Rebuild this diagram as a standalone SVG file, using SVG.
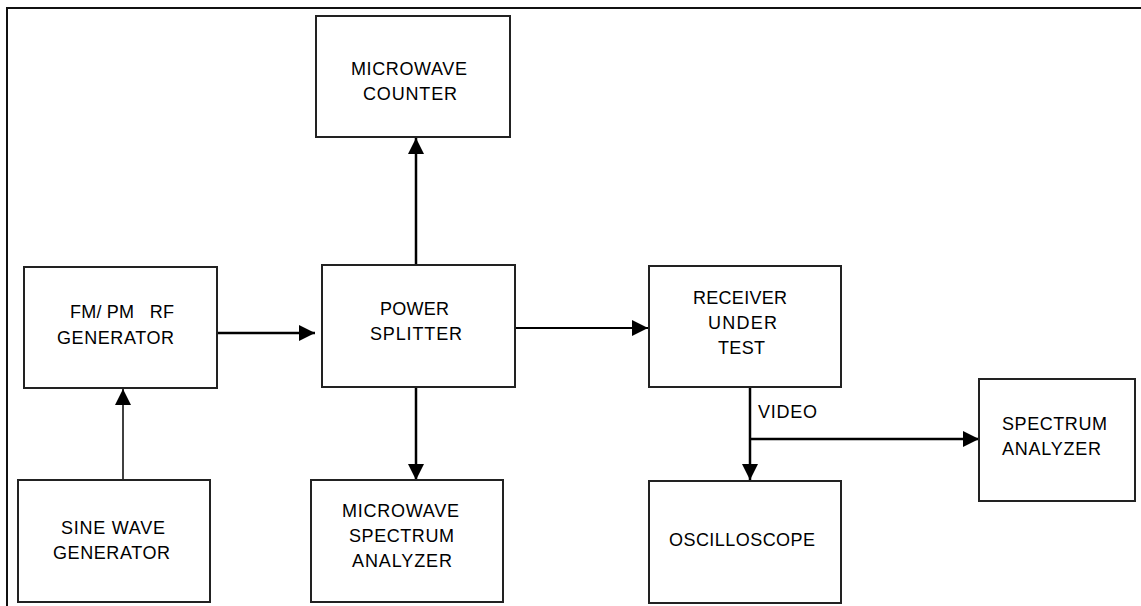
<svg xmlns="http://www.w3.org/2000/svg" width="1141" height="606" viewBox="0 0 1141 606">
<style>
.box{fill:#fff;stroke:#222;stroke-width:2}
.t{font-family:"Liberation Sans",Arial,sans-serif;font-size:18px;fill:#000;text-anchor:middle}
.c{stroke:#000;fill:none}
</style>
<defs>
<marker id="ah" markerUnits="userSpaceOnUse" markerWidth="16" markerHeight="16" refX="16" refY="8" orient="auto">
<path d="M0,0 L16,8 L0,16 Z" fill="#000"/>
</marker>
</defs>
<rect width="1141" height="606" fill="#fff"/>
<g id="frame">
<path d="M7,606 L7,8 L1141,8" fill="none" stroke="#111" stroke-width="2"/>
</g>
<g id="connectors">
<path class="c" d="M123,480 L123,389" stroke-width="1.5" marker-end="url(#ah)"/>
<path class="c" d="M217,333 L315,333" stroke-width="2.5" marker-end="url(#ah)"/>
<path class="c" d="M416,265 L416,138" stroke-width="2.5" marker-end="url(#ah)"/>
<path class="c" d="M416,387 L416,480" stroke-width="2.5" marker-end="url(#ah)"/>
<path class="c" d="M515,328 L648,328" stroke-width="1.8" marker-end="url(#ah)"/>
<path class="c" d="M750,387 L750,480" stroke-width="2.5" marker-end="url(#ah)"/>
<path class="c" d="M750,439 L979,439" stroke-width="2.5" marker-end="url(#ah)"/>
<text x="758" y="418" class="t" style="text-anchor:start" textLength="59">VIDEO</text>
</g>
<g id="counter">
<rect class="box" x="316" y="16" width="194" height="121"/>
<text class="t" x="409" y="75" textLength="116">MICROWAVE</text>
<text class="t" x="410" y="100" textLength="94">COUNTER</text>
</g>
<g id="splitter">
<rect class="box" x="322" y="265" width="193" height="122"/>
<text class="t" x="414.5" y="315" textLength="69">POWER</text>
<text class="t" x="416" y="340" textLength="92">SPLITTER</text>
</g>
<g id="receiver">
<rect class="box" x="649" y="266" width="192" height="121"/>
<text class="t" x="740" y="304" textLength="94">RECEIVER</text>
<text class="t" x="742.5" y="329" textLength="69">UNDER</text>
<text class="t" x="741.5" y="354" textLength="47">TEST</text>
</g>
<g id="spectrum-analyzer">
<rect class="box" x="979" y="379" width="156" height="122"/>
<text class="t" x="1054.5" y="430" textLength="105">SPECTRUM</text>
<text class="t" x="1051.5" y="455" textLength="99">ANALYZER</text>
</g>
<g id="fm-pm-generator">
<rect class="box" x="24" y="267" width="193" height="121"/>
<text class="t" x="122" y="318" textLength="104" xml:space="preserve">FM/ PM   RF</text>
<text class="t" x="115.5" y="344" textLength="117">GENERATOR</text>
</g>
<g id="sine-wave-generator">
<rect class="box" x="18" y="480" width="192" height="122"/>
<text class="t" x="113" y="534" textLength="104">SINE WAVE</text>
<text class="t" x="111.5" y="559" textLength="117">GENERATOR</text>
</g>
<g id="microwave-spectrum-analyzer">
<rect class="box" x="311" y="480" width="192" height="122"/>
<text class="t" x="400.5" y="517" textLength="117">MICROWAVE</text>
<text class="t" x="401.5" y="542" textLength="105">SPECTRUM</text>
<text class="t" x="402" y="567" textLength="100">ANALYZER</text>
</g>
<g id="oscilloscope">
<rect class="box" x="649" y="481" width="192" height="122"/>
<text class="t" x="742" y="546" textLength="146">OSCILLOSCOPE</text>
</g>
</svg>
